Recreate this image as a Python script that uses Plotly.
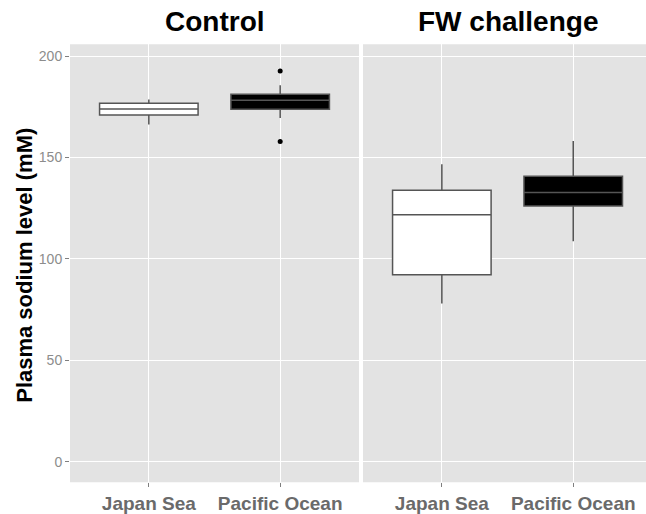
import plotly.graph_objects as go

# ---- data ----
panels = ["Control", "FW challenge"]
populations = ["Japan Sea", "Pacific Ocean"]
tick_labels = ["Japan Sea", "Pacific Ocean"]

# per panel: [Japan Sea, Pacific Ocean]
control_q1 = [170.9, 173.8]
control_median = [173.9, 178.2]
control_q3 = [176.7, 181.2]
control_lower = [166.2, 169.4]
control_upper = [178.6, 185.6]
control_outliers_pacific = [192.6, 157.9]

fw_q1 = [92.2, 126.1]
fw_median = [121.7, 132.7]
fw_q3 = [133.8, 140.8]
fw_lower = [78.0, 108.7]
fw_upper = [146.7, 158.1]

y_ticks = [0, 50, 100, 150, 200]

# ---- styling ----
W, H = 646, 514
fill_colors = {"Japan Sea": "#FFFFFF", "Pacific Ocean": "#000000"}
line_color = "#555555"
bg = "#E3E3E3"
font = "Liberation Sans, Arial, sans-serif"

fig = go.Figure()

def add_panel(q1, med, q3, lo, hi, xaxis, yaxis):
    for i, pop in enumerate(populations):
        fig.add_trace(go.Box(
            x=[i + 1], q1=[q1[i]], median=[med[i]], q3=[q3[i]],
            lowerfence=[lo[i]], upperfence=[hi[i]],
            width=0.75, whiskerwidth=0,
            fillcolor=fill_colors[pop],
            line=dict(color=line_color, width=1.5),
            boxpoints=False, showlegend=False,
            xaxis=xaxis, yaxis=yaxis, hoverinfo="skip",
        ))

add_panel(control_q1, control_median, control_q3, control_lower, control_upper, "x", "y")
add_panel(fw_q1, fw_median, fw_q3, fw_lower, fw_upper, "x2", "y2")

fig.add_trace(go.Scatter(
    x=[2] * len(control_outliers_pacific), y=control_outliers_pacific,
    mode="markers", marker=dict(color="black", size=5),
    showlegend=False, xaxis="x", yaxis="y", hoverinfo="skip",
))

y0, y1 = (H - 490) / H, (H - 45) / H
yrange = [-10.2, 205.8]
unit_px = 131.4
x2_end = 0.4 + (W - 363) / unit_px

common_x = dict(
    tickmode="array", tickvals=[1, 2], ticktext=[f"<b>{t}</b>" for t in tick_labels],
    showgrid=True, gridcolor="white", gridwidth=1.2, zeroline=False,
    ticks="outside", ticklen=4, tickcolor="#7F7F7F",
    tickfont=dict(family=font, size=19, color="#6A6A6A"),
    showline=False,
)
xa1 = dict(common_x, domain=[70 / W, 359 / W], range=[0.4, 2.6], anchor="y")
xa2 = dict(common_x, domain=[363 / W, 1.0], range=[0.4, x2_end], anchor="y2")

common_y = dict(
    range=yrange, domain=[y0, y1], tickvals=y_ticks,
    showgrid=True, gridcolor="white", gridwidth=1.2, zeroline=False,
    ticks="outside", ticklen=4, tickcolor="#7F7F7F",
    tickfont=dict(family=font, size=14, color="#8C8C8C"),
)
ya1 = dict(common_y, anchor="x")
ya2 = dict(common_y, anchor="x2", showticklabels=False, ticks="")

shapes = [
    dict(type="rect", xref="paper", yref="paper", x0=70 / W, x1=359 / W, y0=y0, y1=y1,
         fillcolor=bg, line=dict(width=0), layer="below"),
    dict(type="rect", xref="paper", yref="paper", x0=363 / W, x1=1.0, y0=y0, y1=y1,
         fillcolor=bg, line=dict(width=0), layer="below"),
]

annotations = [
    dict(text="<b>Control</b>", xref="paper", yref="paper", x=(70 + 359) / 2 / W, y=(H - 22) / H,
         showarrow=False, font=dict(family=font, size=28, color="black"), xanchor="center", yanchor="middle"),
    dict(text="<b>FW challenge</b>", xref="paper", yref="paper", x=(363 + 653) / 2 / W, y=(H - 22) / H,
         showarrow=False, font=dict(family=font, size=28, color="black"), xanchor="center", yanchor="middle"),
    dict(text="<b>Plasma sodium level (mM)</b>", xref="paper", yref="paper", x=25 / W, y=(H - 270) / H,
         textangle=-90, showarrow=False, font=dict(family=font, size=22, color="black"),
         xanchor="center", yanchor="middle"),
]

fig.update_layout(
    width=W, height=H,
    margin=dict(l=0, r=0, t=0, b=0),
    paper_bgcolor="white", plot_bgcolor="rgba(0,0,0,0)",
    xaxis=xa1, xaxis2=xa2, yaxis=ya1, yaxis2=ya2,
    shapes=shapes, annotations=annotations,
    boxgap=0, boxgroupgap=0,
)

fig.write_html(
    "out.html",
    config={"displayModeBar": False},
    post_script="document.body.style.margin='0';document.body.style.padding='0';document.body.style.overflow='hidden';",
)
